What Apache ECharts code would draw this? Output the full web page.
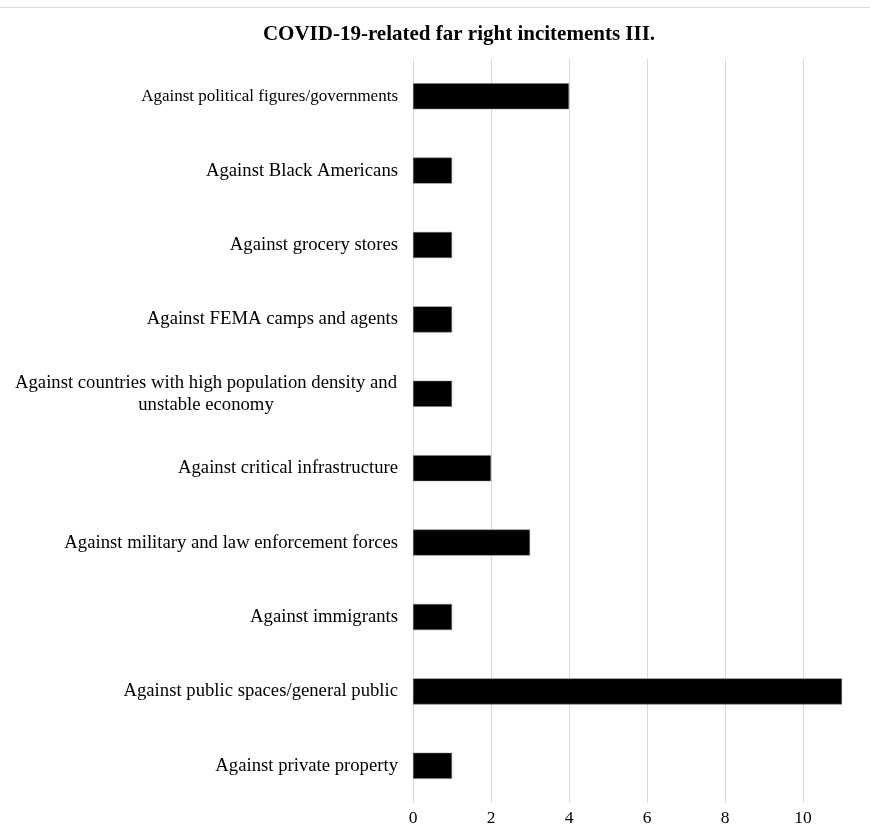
<!DOCTYPE html>
<html>
<head>
<meta charset="utf-8">
<script src="https://cdn.jsdelivr.net/npm/echarts@6/dist/echarts.min.js"></script>
<style>
html,body{margin:0;padding:0;background:#fff;}
#chart{width:870px;height:834px;}
</style>
</head>
<body>
<div id="chart"></div>
<script>
const titleText = 'COVID-19-related far right incitements III.';
const categories = [
  'Against political figures/governments',
  'Against Black Americans',
  'Against grocery stores',
  'Against FEMA camps and agents',
  'Against countries with high population density and\nunstable economy',
  'Against critical infrastructure',
  'Against military and law enforcement forces',
  'Against immigrants',
  'Against public spaces/general public',
  'Against private property'
];
const values = [4, 1, 1, 1, 1, 2, 3, 1, 11, 1];
const xTicks = [0, 2, 4, 6, 8, 10];

const chart = echarts.init(document.getElementById('chart'), null, {renderer: 'canvas'});
const font = '"Liberation Serif", "Times New Roman", serif';
chart.setOption({
  animation: false,
  backgroundColor: '#ffffff',
  graphic: [{
    type: 'line',
    shape: {x1: 0, y1: 7.5, x2: 870, y2: 7.5},
    style: {stroke: '#d9d9d9', lineWidth: 1}
  }],
  title: {
    text: titleText,
    left: 454,
    textAlign: 'center',
    top: 19,
    textStyle: {fontFamily: font, fontWeight: 'bold', fontSize: 21, color: '#000'}
  },
  grid: {left: 413, right: 28, top: 59, bottom: 31, containLabel: false},
  xAxis: {
    type: 'value',
    min: 0,
    max: 11,
    interval: 2,
    axisLine: {show: false},
    axisTick: {show: false},
    splitLine: {show: true, showMinLine: true, showMaxLine: false, lineStyle: {color: '#d9d9d9', width: 1}},
    axisLabel: {
      showMaxLabel: false,
      margin: 6,
      fontFamily: font, fontSize: 17.5, color: '#000',
      formatter: function (v) { return xTicks.indexOf(v) >= 0 ? String(v) : ''; }
    }
  },
  yAxis: {
    type: 'category',
    inverse: true,
    data: categories,
    axisLine: {show: false},
    axisTick: {show: false},
    axisLabel: {
      margin: 15,
      fontFamily: font, fontSize: 18.7, color: '#000',
      lineHeight: 22,
      formatter: function (v) {
        if (v.indexOf('\n') >= 0) {
          return v.split('\n').map(function (s) { return '{c|' + s + '}'; }).join('\n');
        }
        if (v.indexOf('/governments') >= 0) {
          return '{n|' + v + '}';
        }
        return v;
      },
      rich: {
        c: {width: 384, align: 'center', fontFamily: font, fontSize: 18.7, color: '#000', lineHeight: 22},
        n: {fontFamily: font, fontSize: 17, color: '#000', lineHeight: 22}
      }
    }
  },
  series: [{
    type: 'bar',
    data: values,
    barWidth: 26,
    itemStyle: {color: '#000000', borderColor: '#7f7f7f', borderWidth: 0.5}
  }]
});
</script>
</body>
</html>
